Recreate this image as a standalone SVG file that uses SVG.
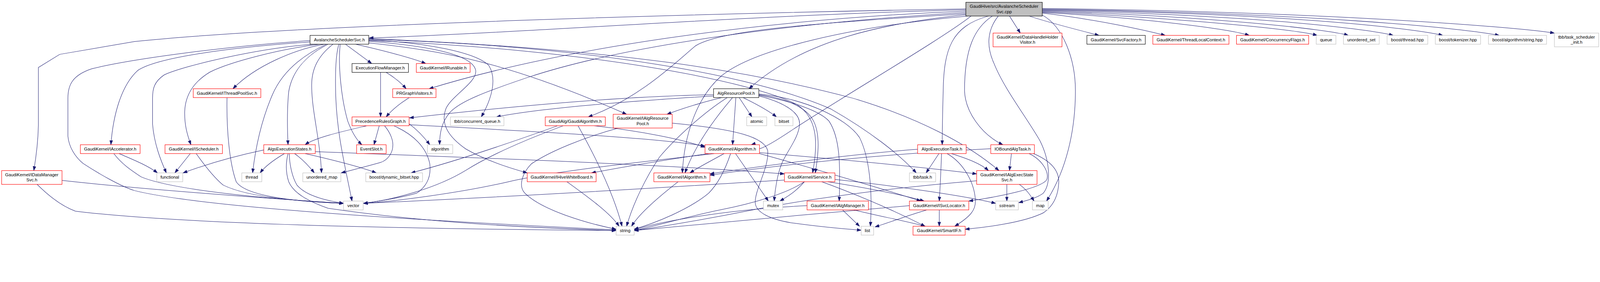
<svg xmlns="http://www.w3.org/2000/svg" width="4877" height="723" viewBox="0 0 4877 723">
<style>
svg:root{width:min(100vw,4877px);height:calc(min(100vw,4877px) * 0.148247)}
.node rect{fill:#ffffff;stroke-width:1.33}
.r rect{stroke:#ff0000}
.k rect{stroke:#000000}
.g rect{stroke:#bfbfbf}
.m rect{fill:#bfbfbf;stroke:#000000}
.node text{font-family:"Liberation Sans",Arial,Helvetica,sans-serif;font-size:13.33px;text-anchor:middle;fill:#000000}
#edges path{fill:none;stroke:#191970;stroke-width:1.2;marker-end:url(#a)}
</style>
<defs>
<marker id="a" markerUnits="userSpaceOnUse" markerWidth="14" markerHeight="10" refX="13" refY="5" orient="auto">
<path d="M0,0.5 L13,5 L0,9.5 z" fill="#191970" stroke="#191970" stroke-width="1"/>
</marker>
</defs>
<rect width="4877" height="723" fill="#ffffff"/>
<g id="edges">
<!-- from main -->
<path d="M2944,30 C2300,45 1600,100 1125,116"/>
<path d="M2944,27 C2200,40 900,75 410,127 L182,166 L117,206 L117,383 C116,430 110,480 103,521"/>
<path d="M2944,34 C2300,60 1700,150 1308,271"/>
<path d="M2944,38 C2400,70 1900,140 1610,236 C1480,280 1400,310 1370,345 C1345,375 1340,410 1340,442"/>
<path d="M2944,42 C2500,70 2200,90 2120,140 C2060,190 1950,300 1793,357"/>
<path d="M2944,45 C2700,70 2450,120 2283,271"/>
<path d="M2950,49 C2600,80 2300,150 2200,231 C2120,300 2085,420 2080,528"/>
<path d="M2960,49 C2870,120 2560,300 2410,400 S2320,432 2290,442"/>
<path d="M3013,49 C2900,80 2877,150 2875,277 C2873,350 2872,400 2872,442"/>
<path d="M3025,49 C2970,85 2940,150 2940,277 C2942,340 2990,410 3057,442"/>
<path d="M3043,49 C3010,90 3005,140 3030,194 C3060,270 3130,360 3170,430 C3200,490 3205,560 3180,590 C3160,605 3130,612 3105,619"/>
<path d="M3077,49 L3110,101"/>
<path d="M3137,49 C3200,70 3300,95 3350,108"/>
<path d="M3177,40 C3350,60 3500,95 3552,108"/>
<path d="M3177,38 C3500,55 3750,90 3808,108"/>
<path d="M3177,36 C3600,55 3950,90 4015,108"/>
<path d="M3177,34 C3700,50 4050,90 4110,108"/>
<path d="M3177,32 C3800,45 4150,85 4247,108"/>
<path d="M3177,30 C3900,40 4300,85 4398,108"/>
<path d="M3177,28 C4000,40 4450,85 4570,108"/>
<path d="M3177,26 C4000,35 4600,80 4738,101"/>
<path d="M3177,46 C3240,80 3278,180 3278,277 C3278,400 3250,520 3190,614"/>
<!-- from AvalancheSchedulerSvc.h -->
<path d="M1053,135 L1133,194"/>
<path d="M1083,135 C1150,150 1250,175 1298,194"/>
<path d="M945,128 C700,145 480,175 420,215 C370,260 345,350 338,442"/>
<path d="M945,124 C700,140 400,180 280,210 C220,230 207,260 207,300 L207,416 C210,450 230,480 253,499 C300,530 370,570 410,582 C600,630 1200,670 1878,702"/>
<path d="M960,135 C800,145 560,200 500,229 C470,250 465,270 465,300 L465,379 C470,440 490,490 507,528"/>
<path d="M975,135 C850,150 700,190 640,220 C590,250 565,290 563,340 C562,380 570,410 582,442"/>
<path d="M990,135 C900,150 780,200 710,271"/>
<path d="M995,135 C920,170 860,220 830,290 C800,360 780,440 770,528"/>
<path d="M1000,135 C930,170 890,220 880,280 C874,340 876,400 878,442"/>
<path d="M1015,135 C970,170 950,210 950,260 C950,340 975,420 980,528"/>
<path d="M1033,135 C1022,170 1022,230 1023,277 C1025,400 1050,500 1073,614"/>
<path d="M1037,135 C1030,200 1040,300 1060,370 C1075,410 1090,430 1103,442"/>
<path d="M1124,122 C1300,130 1450,160 1490,200 C1515,240 1500,300 1467,357"/>
<path d="M1124,126 C1300,140 1440,165 1450,215 C1455,250 1380,290 1360,330 C1340,380 1370,420 1420,455 C1480,490 1560,515 1607,528"/>
<path d="M1124,131 C1350,155 1550,190 1910,349"/>
<path d="M1124,124 C1800,150 2300,250 2430,320 C2490,360 2495,430 2477,528"/>
<path d="M1124,120 C1800,140 2300,230 2533,333 C2650,400 2740,470 2793,528"/>
<path d="M1124,118 C1900,150 2300,220 2600,300 C2800,360 2950,440 3045,521"/>
<!-- ExecutionFlowManager, PRGraphVisitors -->
<path d="M1160,221 L1160,357"/>
<path d="M1177,221 C1200,235 1220,250 1238,271"/>
<path d="M1248,298 C1220,315 1195,335 1177,357"/>
<!-- PrecedenceRulesGraph -->
<path d="M1118,384 C1050,400 960,420 930,442"/>
<path d="M1156,384 L1140,442"/>
<path d="M1172,384 C1190,405 1200,430 1197,450 C1195,470 1180,490 1160,496 C1110,510 1070,520 1040,528"/>
<path d="M1247,378 C1270,395 1290,415 1310,442"/>
<path d="M1200,384 C1260,410 1300,450 1310,500 C1315,540 1300,570 1270,590 C1220,605 1150,615 1108,621"/>
<path d="M1247,381 C1600,400 2000,420 2149,446"/>
<!-- AlgResourcePool -->
<path d="M2175,289 C1900,295 1600,320 1248,360"/>
<path d="M2178,293 C1900,310 1650,330 1513,357"/>
<path d="M2200,298 C2130,315 2070,335 2033,349"/>
<path d="M2243,298 L2233,442"/>
<path d="M2233,298 C2180,360 2120,440 2088,528"/>
<path d="M2253,298 L2292,357"/>
<path d="M2265,298 C2310,320 2345,340 2367,357"/>
<path d="M2313,293 C2380,310 2440,340 2437,380 C2435,420 2400,460 2383,499 C2370,530 2362,580 2360,614"/>
<path d="M2313,289 C2400,300 2460,330 2480,370 C2500,410 2495,470 2485,528"/>
<path d="M2313,291 C2420,310 2500,340 2527,370 C2560,420 2562,500 2558,614"/>
<path d="M2313,287 C2450,300 2580,360 2620,420 C2650,480 2660,580 2653,691"/>
<path d="M2217,298 C2150,340 2060,420 2010,480 C1970,540 1930,620 1910,691"/>
<!-- GaudiAlgorithm -->
<path d="M1810,384 C1950,400 2080,425 2149,450"/>
<path d="M1762,384 C1810,470 1870,590 1896,691"/>
<path d="M1700,384 C1600,420 1400,490 1253,528"/>
<path d="M1717,384 C1620,420 1500,470 1420,520 C1330,575 1200,610 1108,621"/>
<!-- IAlgResourcePool -->
<path d="M2049,376 C2250,395 2330,420 2340,460 C2345,510 2300,580 2302,620 C2305,650 2350,670 2410,680 C2480,690 2560,698 2625,703"/>
<path d="M1882,392 C1780,420 1680,460 1620,500 C1590,530 1580,570 1600,590 C1650,640 1780,680 1878,700"/>
<!-- IHiveWhiteBoard, IAlgorithm -->
<path d="M1728,555 C1790,600 1860,650 1887,691"/>
<path d="M2067,555 C2010,600 1950,650 1925,691"/>
<!-- Algorithm -->
<path d="M2207,469 C2170,490 2130,510 2103,528"/>
<path d="M2242,469 L2342,614"/>
<path d="M2227,469 C2210,520 2190,560 2160,590 C2100,640 2000,680 1933,700"/>
<path d="M2315,466 C2600,490 2850,515 2977,531"/>
<path d="M2160,469 C2050,485 1900,510 1803,528"/>
<path d="M2177,469 C2000,490 1700,520 1550,555 C1400,590 1200,615 1108,621"/>
<path d="M2315,469 C2500,520 2700,580 2807,614"/>
<!-- Service -->
<path d="M2452,555 C2400,590 2300,620 2200,640 C2100,660 2000,690 1933,704"/>
<path d="M2523,555 C2650,575 2750,595 2817,614"/>
<path d="M2505,555 C2600,590 2720,640 2820,691"/>
<path d="M2452,555 C2430,580 2410,595 2377,614"/>
<path d="M2391,550 C2200,560 1800,590 1108,621"/>
<path d="M2545,548 C2750,570 2950,600 3035,621"/>
<!-- AlgsExecutionStates -->
<path d="M804,458 C700,480 620,505 558,528"/>
<path d="M867,469 C840,485 810,505 793,528"/>
<path d="M898,469 C920,485 940,505 958,528"/>
<path d="M930,469 C1000,485 1100,510 1147,528"/>
<path d="M882,469 C882,500 890,540 905,565 C930,595 980,610 1047,621"/>
<path d="M878,469 C870,500 872,530 880,555 C895,590 940,615 1000,636 C1300,680 1600,695 1878,704"/>
<path d="M961,463 C1400,480 2000,500 2391,531"/>
<!-- IAccelerator, IScheduler, IThreadPoolSvc, IDataManagerSvc -->
<path d="M363,469 C400,485 450,505 480,528"/>
<path d="M347,469 C370,500 400,520 430,540 C500,570 700,600 1047,621"/>
<path d="M580,469 L533,528"/>
<path d="M598,469 C620,500 650,540 680,565 C750,600 900,615 1047,621"/>
<path d="M692,298 C690,400 700,500 720,555 C750,600 900,615 1047,621"/>
<path d="M189,551 C400,575 800,605 1047,621"/>
<path d="M113,563 C150,600 190,630 230,645 C600,690 1400,700 1878,704"/>
<!-- IAlgManager, ISvcLocator -->
<path d="M2568,641 L2620,691"/>
<path d="M2460,628 C2200,640 2000,680 1933,702"/>
<path d="M2603,641 C2680,660 2760,675 2820,691"/>
<path d="M2863,641 L2863,691"/>
<path d="M2825,641 C2760,660 2710,680 2667,693"/>
<path d="M2772,628 C2500,650 2100,690 1933,704"/>
<!-- AlgoExecutionTask -->
<path d="M2862,469 L2823,528"/>
<path d="M2870,469 C2868,520 2866,570 2863,614"/>
<path d="M2887,469 C2940,500 2970,560 2973,610 C2975,640 2960,660 2910,691"/>
<path d="M2900,469 C2950,485 2990,500 3013,521"/>
<path d="M2797,456 C2600,470 2300,510 2164,531"/>
<!-- IOBoundAlgTask -->
<path d="M3083,469 L3077,521"/>
<path d="M3020,454 C2700,470 2400,500 2164,535"/>
<path d="M3137,469 C3180,490 3200,530 3190,550 C3170,575 3050,600 2953,614"/>
<path d="M3150,469 C3200,490 3230,520 3227,560 C3225,600 3210,630 3180,650 C3120,680 3000,695 2942,700"/>
<!-- IAlgExecStateSvc -->
<path d="M3069,563 L3069,614"/>
<path d="M3107,563 C3130,580 3140,595 3152,614"/>
<path d="M2977,552 C2700,575 2450,610 2300,640 C2150,670 2000,695 1933,704"/>
</g>

<g id="n_main" class="node m"><rect x="2944" y="7" width="233" height="42"/><text x="3060.5" y="24">GaudiHive/src/AvalancheScheduler</text><text x="3060.5" y="40">Svc.cpp</text></g>
<g id="n_ash" class="node k"><rect x="945" y="108" width="179" height="27"/><text x="1034.5" y="126">AvalancheSchedulerSvc.h</text></g>
<g id="n_dhhv" class="node r"><rect x="3027" y="101" width="210" height="42"/><text x="3132" y="118">GaudiKernel/DataHandleHolder</text><text x="3132" y="134">Visitor.h</text></g>
<g id="n_svcfactory" class="node k"><rect x="3313" y="108" width="178" height="27"/><text x="3402" y="126">GaudiKernel/SvcFactory.h</text></g>
<g id="n_tlc" class="node r"><rect x="3514" y="108" width="232" height="27"/><text x="3630" y="126">GaudiKernel/ThreadLocalContext.h</text></g>
<g id="n_cf" class="node r"><rect x="3769" y="108" width="220" height="27"/><text x="3879" y="126">GaudiKernel/ConcurrencyFlags.h</text></g>
<g id="n_queue" class="node g"><rect x="4012" y="108" width="60" height="27"/><text x="4042" y="126">queue</text></g>
<g id="n_uset" class="node g"><rect x="4095" y="108" width="109" height="27"/><text x="4149.5" y="126">unordered_set</text></g>
<g id="n_bthread" class="node g"><rect x="4228" y="108" width="124" height="27"/><text x="4290" y="126">boost/thread.hpp</text></g>
<g id="n_btok" class="node g"><rect x="4375" y="108" width="138" height="27"/><text x="4444" y="126">boost/tokenizer.hpp</text></g>
<g id="n_balgstr" class="node g"><rect x="4537" y="108" width="177" height="27"/><text x="4625.5" y="126">boost/algorithm/string.hpp</text></g>
<g id="n_tbbinit" class="node g"><rect x="4738" y="101" width="135" height="42"/><text x="4805.5" y="118">tbb/task_scheduler</text><text x="4805.5" y="134">_init.h</text></g>
<g id="n_efm" class="node k"><rect x="1073" y="194" width="172" height="27"/><text x="1159" y="212">ExecutionFlowManager.h</text></g>
<g id="n_irunable" class="node r"><rect x="1269" y="194" width="164" height="27"/><text x="1351" y="212">GaudiKernel/IRunable.h</text></g>
<g id="n_itps" class="node r"><rect x="589" y="271" width="206" height="27"/><text x="692" y="289">GaudiKernel/IThreadPoolSvc.h</text></g>
<g id="n_prgv" class="node r"><rect x="1197" y="271" width="132" height="27"/><text x="1263" y="289">PRGraphVisitors.h</text></g>
<g id="n_arp" class="node k"><rect x="2175" y="271" width="138" height="27"/><text x="2244" y="289">AlgResourcePool.h</text></g>
<g id="n_prg" class="node r"><rect x="1073" y="357" width="174" height="27"/><text x="1160" y="375">PrecedenceRulesGraph.h</text></g>
<g id="n_tbbcq" class="node g"><rect x="1373" y="357" width="163" height="27"/><text x="1454.5" y="375">tbb/concurrent_queue.h</text></g>
<g id="n_gaudialg" class="node r"><rect x="1662" y="357" width="183" height="27"/><text x="1753.5" y="375">GaudiAlg/GaudiAlgorithm.h</text></g>
<g id="n_iarp" class="node r"><rect x="1869" y="349" width="180" height="42"/><text x="1959" y="366">GaudiKernel/IAlgResource</text><text x="1959" y="382">Pool.h</text></g>
<g id="n_atomic" class="node g"><rect x="2276" y="357" width="61" height="27"/><text x="2306.5" y="375">atomic</text></g>
<g id="n_bitset" class="node g"><rect x="2362" y="357" width="55" height="27"/><text x="2389.5" y="375">bitset</text></g>
<g id="n_iaccel" class="node r"><rect x="245" y="442" width="182" height="27"/><text x="336" y="460">GaudiKernel/IAccelerator.h</text></g>
<g id="n_ischeduler" class="node r"><rect x="503" y="442" width="175" height="27"/><text x="590.5" y="460">GaudiKernel/IScheduler.h</text></g>
<g id="n_aes" class="node r"><rect x="804" y="442" width="157" height="27"/><text x="882.5" y="460">AlgsExecutionStates.h</text></g>
<g id="n_eventslot" class="node r"><rect x="1087" y="442" width="90" height="27"/><text x="1132" y="460">EventSlot.h</text></g>
<g id="n_algorithm_std" class="node g"><rect x="1303" y="442" width="77" height="27"/><text x="1341.5" y="460">algorithm</text></g>
<g id="n_algorithm" class="node r"><rect x="2149" y="442" width="166" height="27"/><text x="2232" y="460">GaudiKernel/Algorithm.h</text></g>
<g id="n_aet" class="node r"><rect x="2797" y="442" width="148" height="27"/><text x="2871" y="460">AlgoExecutionTask.h</text></g>
<g id="n_iob" class="node r"><rect x="3020" y="442" width="133" height="27"/><text x="3086.5" y="460">IOBoundAlgTask.h</text></g>
<g id="n_idms" class="node r"><rect x="5" y="521" width="184" height="42"/><text x="97" y="538">GaudiKernel/IDataManager</text><text x="97" y="554">Svc.h</text></g>
<g id="n_functional" class="node g"><rect x="478" y="528" width="79" height="27"/><text x="517.5" y="546">functional</text></g>
<g id="n_thread" class="node g"><rect x="737" y="528" width="61" height="27"/><text x="767.5" y="546">thread</text></g>
<g id="n_umap" class="node g"><rect x="923" y="528" width="116" height="27"/><text x="981" y="546">unordered_map</text></g>
<g id="n_dynbitset" class="node g"><rect x="1115" y="528" width="173" height="27"/><text x="1201.5" y="546">boost/dynamic_bitset.hpp</text></g>
<g id="n_ihwb" class="node r"><rect x="1607" y="528" width="210" height="27"/><text x="1712" y="546">GaudiKernel/IHiveWhiteBoard.h</text></g>
<g id="n_ialgorithm" class="node r"><rect x="1993" y="528" width="171" height="27"/><text x="2078.5" y="546">GaudiKernel/IAlgorithm.h</text></g>
<g id="n_service" class="node r"><rect x="2391" y="528" width="154" height="27"/><text x="2468" y="546">GaudiKernel/Service.h</text></g>
<g id="n_tbbtask" class="node g"><rect x="2772" y="528" width="80" height="27"/><text x="2812" y="546">tbb/task.h</text></g>
<g id="n_iaess" class="node r"><rect x="2977" y="521" width="184" height="42"/><text x="3069" y="538">GaudiKernel/IAlgExecState</text><text x="3069" y="554">Svc.h</text></g>
<g id="n_vector" class="node g"><rect x="1047" y="614" width="60" height="27"/><text x="1077" y="632">vector</text></g>
<g id="n_mutex" class="node g"><rect x="2327" y="614" width="59" height="27"/><text x="2356.5" y="632">mutex</text></g>
<g id="n_ialgmgr" class="node r"><rect x="2460" y="614" width="187" height="27"/><text x="2553.5" y="632">GaudiKernel/IAlgManager.h</text></g>
<g id="n_isvcloc" class="node r"><rect x="2772" y="614" width="181" height="27"/><text x="2862.5" y="632">GaudiKernel/ISvcLocator.h</text></g>
<g id="n_sstream" class="node g"><rect x="3035" y="614" width="69" height="27"/><text x="3069.5" y="632">sstream</text></g>
<g id="n_map" class="node g"><rect x="3147" y="614" width="48" height="27"/><text x="3171" y="632">map</text></g>
<g id="n_string" class="node g"><rect x="1878" y="691" width="55" height="27"/><text x="1905.5" y="709">string</text></g>
<g id="n_list" class="node g"><rect x="2625" y="691" width="38" height="27"/><text x="2644" y="709">list</text></g>
<g id="n_smartif" class="node r"><rect x="2783" y="691" width="159" height="27"/><text x="2862.5" y="709">GaudiKernel/SmartIF.h</text></g>
</svg>
